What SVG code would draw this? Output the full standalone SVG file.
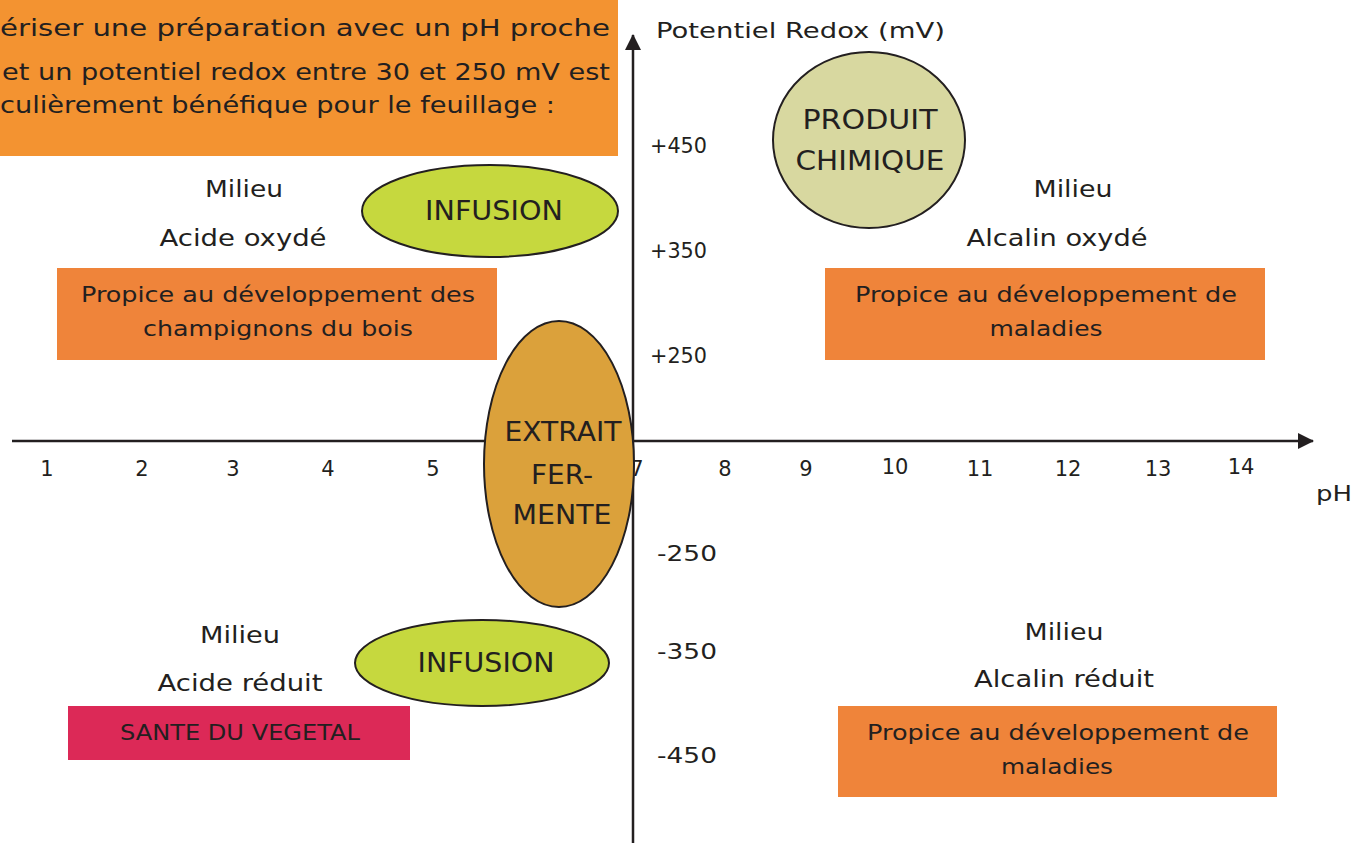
<svg xmlns="http://www.w3.org/2000/svg" width="1358" height="843" viewBox="0 0 1358 843">
<defs>
<style>
text{font-family:"DejaVu Sans","Liberation Sans",sans-serif;fill:#231f20}
.t{font-size:23px}
.b{font-size:21px}
.ax{font-size:22px}
.tk{font-size:21px;text-anchor:middle}
.el{font-size:26px;text-anchor:middle}
.c{text-anchor:middle}
.box{fill:#ef843a}
.ell{stroke:#231f20;stroke-width:2}
.axis{stroke:#231f20;stroke-width:2.5;fill:none}
</style>
<marker id="ah2" markerWidth="16" markerHeight="16" refX="15" refY="8" orient="auto" markerUnits="userSpaceOnUse" viewBox="0 0 16 16">
<path d="M0,0 L16,8 L0,16 z" fill="#231f20"/>
</marker>
</defs>
<rect width="1358" height="843" fill="#ffffff"/>

<g id="intro">
<rect x="0" y="0" width="618" height="156" fill="#f39331"/>
<text class="t" x="0" y="36" textLength="610" lengthAdjust="spacingAndGlyphs">ériser une préparation avec un pH proche</text>
<text class="t" x="2" y="80" textLength="608" lengthAdjust="spacingAndGlyphs">et un potentiel redox entre 30 et 250 mV est</text>
<text class="t" x="0" y="113" textLength="555" lengthAdjust="spacingAndGlyphs">culièrement bénéfique pour le feuillage :</text>
</g>

<g id="axes">
<line class="axis" x1="12" y1="441" x2="1313" y2="441" marker-end="url(#ah2)"/>
<line class="axis" x1="633" y1="843" x2="633" y2="35" marker-end="url(#ah2)"/>
</g>

<g id="axis-labels">
<text class="ax" x="656" y="38" textLength="289" lengthAdjust="spacingAndGlyphs">Potentiel Redox (mV)</text>
<text class="ax" x="1316" y="501" textLength="36" lengthAdjust="spacingAndGlyphs">pH</text>
<text class="ax" x="650" y="153" textLength="57" lengthAdjust="spacingAndGlyphs">+450</text>
<text class="ax" x="650" y="258" textLength="57" lengthAdjust="spacingAndGlyphs">+350</text>
<text class="ax" x="650" y="363" textLength="57" lengthAdjust="spacingAndGlyphs">+250</text>
<text class="ax" x="657" y="561" textLength="60" lengthAdjust="spacingAndGlyphs">-250</text>
<text class="ax" x="657" y="659" textLength="60" lengthAdjust="spacingAndGlyphs">-350</text>
<text class="ax" x="657" y="763" textLength="60" lengthAdjust="spacingAndGlyphs">-450</text>
<text class="tk" x="47" y="476">1</text>
<text class="tk" x="142" y="476">2</text>
<text class="tk" x="233" y="476">3</text>
<text class="tk" x="328" y="476">4</text>
<text class="tk" x="433" y="476">5</text>
<text class="tk" x="637" y="476">7</text>
<text class="tk" x="725" y="476">8</text>
<text class="tk" x="806" y="476">9</text>
<text class="tk" x="895" y="474">10</text>
<text class="tk" x="980" y="476">11</text>
<text class="tk" x="1068" y="476">12</text>
<text class="tk" x="1158" y="476">13</text>
<text class="tk" x="1241" y="474">14</text>
</g>

<g id="acide-oxyde">
<text class="t c" x="244" y="197" textLength="78" lengthAdjust="spacingAndGlyphs">Milieu</text>
<text class="t c" x="243" y="246" textLength="167" lengthAdjust="spacingAndGlyphs">Acide oxydé</text>
</g>
<g id="alcalin-oxyde">
<text class="t c" x="1073" y="197" textLength="79" lengthAdjust="spacingAndGlyphs">Milieu</text>
<text class="t c" x="1057" y="246" textLength="181" lengthAdjust="spacingAndGlyphs">Alcalin oxydé</text>
</g>
<g id="acide-reduit">
<text class="t c" x="240" y="643" textLength="80" lengthAdjust="spacingAndGlyphs">Milieu</text>
<text class="t c" x="240" y="691" textLength="165" lengthAdjust="spacingAndGlyphs">Acide réduit</text>
</g>
<g id="alcalin-reduit">
<text class="t c" x="1064" y="640" textLength="79" lengthAdjust="spacingAndGlyphs">Milieu</text>
<text class="t c" x="1064" y="687" textLength="180" lengthAdjust="spacingAndGlyphs">Alcalin réduit</text>
</g>

<g id="box-champignons">
<rect class="box" x="57" y="268" width="440" height="92"/>
<text class="b c" x="278" y="302" textLength="394" lengthAdjust="spacingAndGlyphs">Propice au développement des</text>
<text class="b c" x="278" y="336" textLength="270" lengthAdjust="spacingAndGlyphs">champignons du bois</text>
</g>
<g id="box-maladies-haut">
<rect class="box" x="825" y="268" width="440" height="92"/>
<text class="b c" x="1046" y="302" textLength="382" lengthAdjust="spacingAndGlyphs">Propice au développement de</text>
<text class="b c" x="1046" y="336" textLength="113" lengthAdjust="spacingAndGlyphs">maladies</text>
</g>
<g id="box-sante">
<rect x="68" y="706" width="342" height="54" fill="#dc2957"/>
<text class="b c" x="240" y="740" textLength="240" lengthAdjust="spacingAndGlyphs">SANTE DU VEGETAL</text>
</g>
<g id="box-maladies-bas">
<rect class="box" x="838" y="706" width="439" height="91"/>
<text class="b c" x="1058" y="740" textLength="382" lengthAdjust="spacingAndGlyphs">Propice au développement de</text>
<text class="b c" x="1057" y="774" textLength="112" lengthAdjust="spacingAndGlyphs">maladies</text>
</g>

<g id="infusion-haut">
<ellipse class="ell" cx="490" cy="211" rx="128" ry="46" fill="#c6d83e"/>
<text class="el" x="494" y="220" textLength="138" lengthAdjust="spacingAndGlyphs">INFUSION</text>
</g>
<g id="produit-chimique">
<ellipse class="ell" cx="869" cy="140" rx="96" ry="88" fill="#d8d8a0"/>
<text class="el" x="870" y="129" textLength="135" lengthAdjust="spacingAndGlyphs">PRODUIT</text>
<text class="el" x="870" y="170" textLength="149" lengthAdjust="spacingAndGlyphs">CHIMIQUE</text>
</g>
<g id="extrait-fermente">
<ellipse class="ell" cx="559" cy="464" rx="75" ry="143" fill="#dba13b"/>
<text class="el" x="563" y="441" textLength="117" lengthAdjust="spacingAndGlyphs">EXTRAIT</text>
<text class="el" x="562" y="484" textLength="62" lengthAdjust="spacingAndGlyphs">FER-</text>
<text class="el" x="562" y="524" textLength="99" lengthAdjust="spacingAndGlyphs">MENTE</text>
</g>
<g id="infusion-bas">
<ellipse class="ell" cx="482" cy="663" rx="127" ry="43" fill="#c6d83e"/>
<text class="el" x="486" y="672" textLength="137" lengthAdjust="spacingAndGlyphs">INFUSION</text>
</g>
</svg>
